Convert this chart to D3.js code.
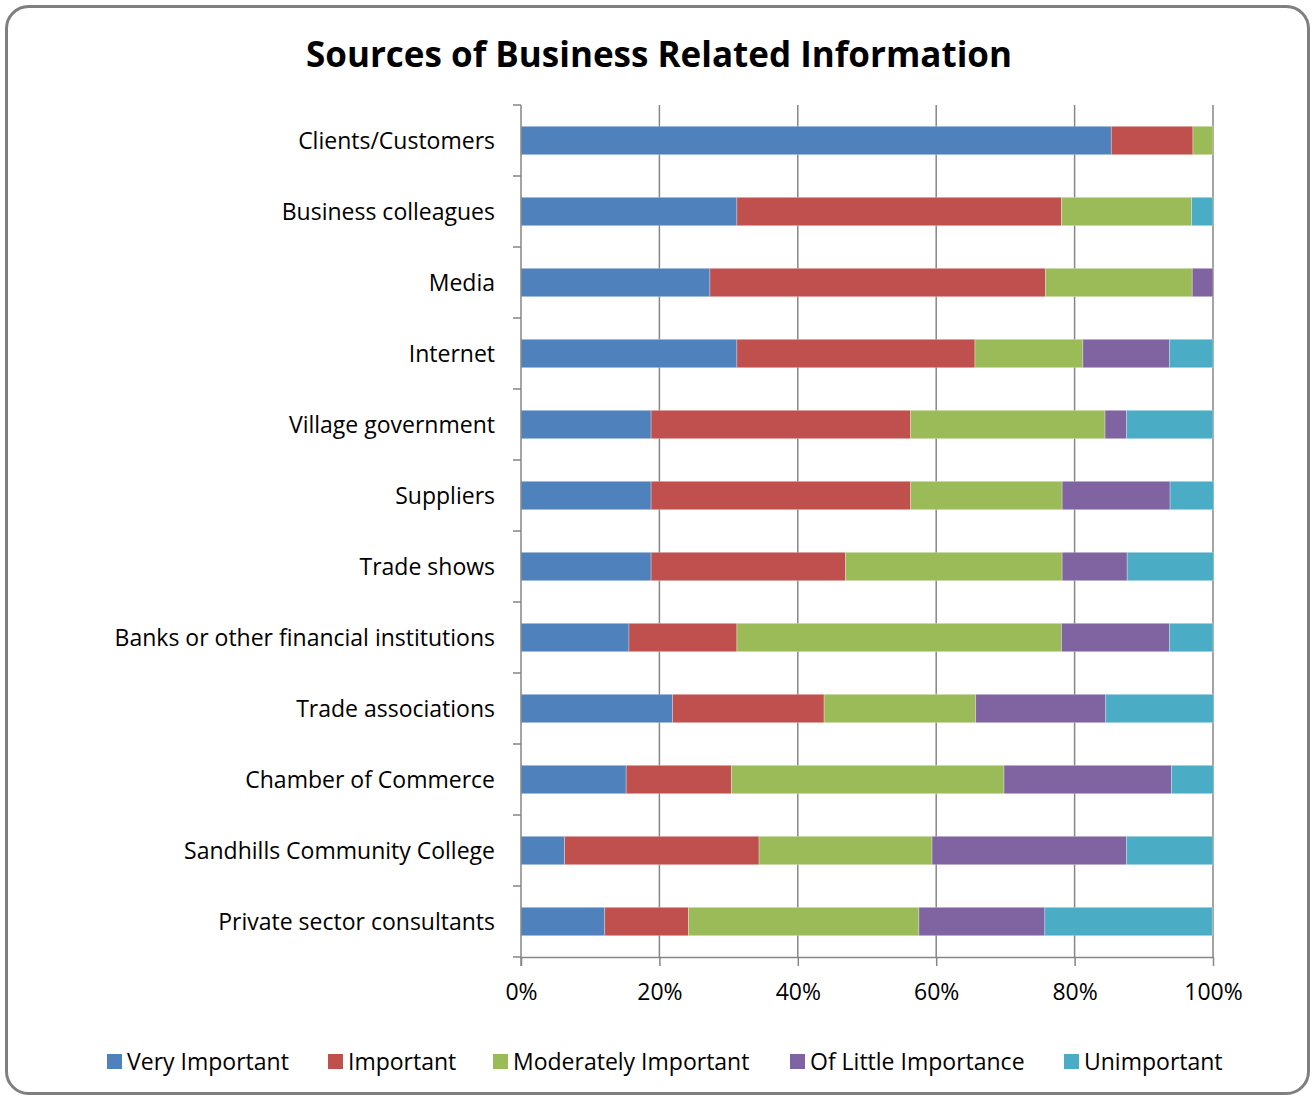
<!DOCTYPE html>
<html>
<head>
<meta charset="utf-8">
<script src="https://cdn.jsdelivr.net/npm/d3@7"></script>
<style>
  html, body { margin: 0; padding: 0; background: #fff; }
  svg { display: block; }
  text { font-family: "Open Sans", "DejaVu Sans", sans-serif; fill: #000; }
</style>
</head>
<body>
<svg id="chart" width="1315" height="1099"></svg>
<script>
// Survey categories, top to bottom
const categories = [
  "Clients/Customers",
  "Business colleagues",
  "Media",
  "Internet",
  "Village government",
  "Suppliers",
  "Trade shows",
  "Banks or other financial institutions",
  "Trade associations",
  "Chamber of Commerce",
  "Sandhills Community College",
  "Private sector consultants"
];

// Response levels (stack order, left to right)
const seriesNames = ["Very Important", "Important", "Moderately Important", "Of Little Importance", "Unimportant"];

// Share of responses per level, in percent, one entry per category
const veryImportant     = [85.3, 31.2, 27.3, 31.2, 18.8, 18.8, 18.8, 15.6, 21.9, 15.2,  6.3, 12.1];
const important         = [11.8, 46.9, 48.5, 34.4, 37.5, 37.5, 28.1, 15.6, 21.9, 15.2, 28.1, 12.1];
const moderately        = [ 2.9, 18.8, 21.2, 15.6, 28.1, 21.9, 31.3, 46.9, 21.9, 39.4, 25.0, 33.3];
const ofLittle          = [ 0.0,  0.0,  3.0, 12.5,  3.1, 15.6,  9.4, 15.6, 18.8, 24.2, 28.1, 18.2];
const unimportant       = [ 0.0,  3.1,  0.0,  6.3, 12.5,  6.3, 12.5,  6.3, 15.6,  6.1, 12.5, 24.2];

const xTicks = [0, 20, 40, 60, 80, 100];
const colors = ["#4F81BD", "#C0504D", "#9BBB59", "#8064A2", "#4BACC6"];

const seriesValues = [veryImportant, important, moderately, ofLittle, unimportant];
const rows = categories.map((c, i) => {
  const r = { category: c };
  seriesNames.forEach((s, k) => { r[s] = seriesValues[k][i]; });
  return r;
});

const svg = d3.select("#chart");
const W = 1315, H = 1099;

// outer frame
svg.append("rect")
  .attr("x", 6.5).attr("y", 6.5)
  .attr("width", W - 13).attr("height", H - 12)
  .attr("rx", 22).attr("ry", 22)
  .attr("fill", "#fff")
  .attr("stroke", "#7f7f7f")
  .attr("stroke-width", 3);

// title
svg.append("text")
  .attr("x", 659).attr("y", 67)
  .attr("text-anchor", "middle")
  .style("font-size", "35px")
  .style("font-weight", "bold")
  .text("Sources of Business Related Information");

const plot = { left: 521, right: 1213, top: 105, bottom: 957 };

const x = d3.scaleLinear().domain([0, 100]).range([plot.left, plot.right]);
const y = d3.scaleBand().domain(categories).range([plot.top, plot.bottom]).paddingInner(0.6).paddingOuter(0.3);

// vertical gridlines
svg.append("g")
  .selectAll("line")
  .data(xTicks.filter(t => t > 0))
  .join("line")
  .attr("x1", d => x(d)).attr("x2", d => x(d))
  .attr("y1", plot.top).attr("y2", plot.bottom)
  .attr("stroke", "#868686")
  .attr("stroke-width", 1.5);

// stacked bars
const stack = d3.stack().keys(seriesNames);
const layers = stack(rows);

svg.append("g")
  .selectAll("g")
  .data(layers)
  .join("g")
  .attr("fill", (d, i) => colors[i])
  .selectAll("rect")
  .data(d => d)
  .join("rect")
  .attr("x", d => x(d[0]))
  .attr("width", d => Math.max(0, x(d[1]) - x(d[0])))
  .attr("y", d => y(d.data.category))
  .attr("height", y.bandwidth())
  .attr("stroke", d => (d[1] - d[0]) > 0 ? "rgba(255,255,255,0.35)" : "none")
  .attr("stroke-width", 0.8);

// bottom axis
const xAxis = d3.axisBottom(x)
  .tickValues(xTicks)
  .tickFormat(d => d + "%")
  .tickSize(9)
  .tickSizeOuter(0)
  .tickPadding(18);

const gx = svg.append("g")
  .attr("transform", `translate(0,${plot.bottom})`)
  .call(xAxis);
gx.select(".domain").attr("stroke", "#868686").attr("stroke-width", 1.5);
gx.selectAll(".tick line").attr("stroke", "#868686").attr("stroke-width", 1.5);
gx.selectAll(".tick text")
  .style("font-size", "23px")
  .style("font-family", "'Open Sans', sans-serif")
  .attr("fill", "#000");

// left axis: category labels and boundary ticks between bands
const boundaries = d3.range(categories.length + 1).map(i => plot.top + i * (plot.bottom - plot.top) / categories.length);

const gy = svg.append("g");
gy.append("line")
  .attr("x1", plot.left).attr("x2", plot.left)
  .attr("y1", plot.top).attr("y2", plot.bottom + 9)
  .attr("stroke", "#868686").attr("stroke-width", 1.5);
gy.selectAll("line.tk")
  .data(boundaries)
  .join("line")
  .attr("class", "tk")
  .attr("x1", plot.left - 8).attr("x2", plot.left)
  .attr("y1", d => d).attr("y2", d => d)
  .attr("stroke", "#868686").attr("stroke-width", 1.5);

gy.selectAll("text")
  .data(categories)
  .join("text")
  .attr("x", 495)
  .attr("y", d => y(d) + y.bandwidth() / 2)
  .attr("dy", "0.35em")
  .attr("text-anchor", "end")
  .style("font-size", "23px")
  .text(d => d);

// legend
const legendX = [107, 328, 493, 790, 1064];
const legend = svg.append("g")
  .selectAll("g")
  .data(seriesNames)
  .join("g")
  .attr("transform", (d, i) => `translate(${legendX[i]},1062)`);
legend.append("rect")
  .attr("x", 0).attr("y", -8)
  .attr("width", 15).attr("height", 15)
  .attr("fill", (d, i) => colors[i]);
legend.append("text")
  .attr("x", 20).attr("y", 0)
  .attr("dy", "0.35em")
  .style("font-size", "23px")
  .text(d => d);
</script>
</body>
</html>
